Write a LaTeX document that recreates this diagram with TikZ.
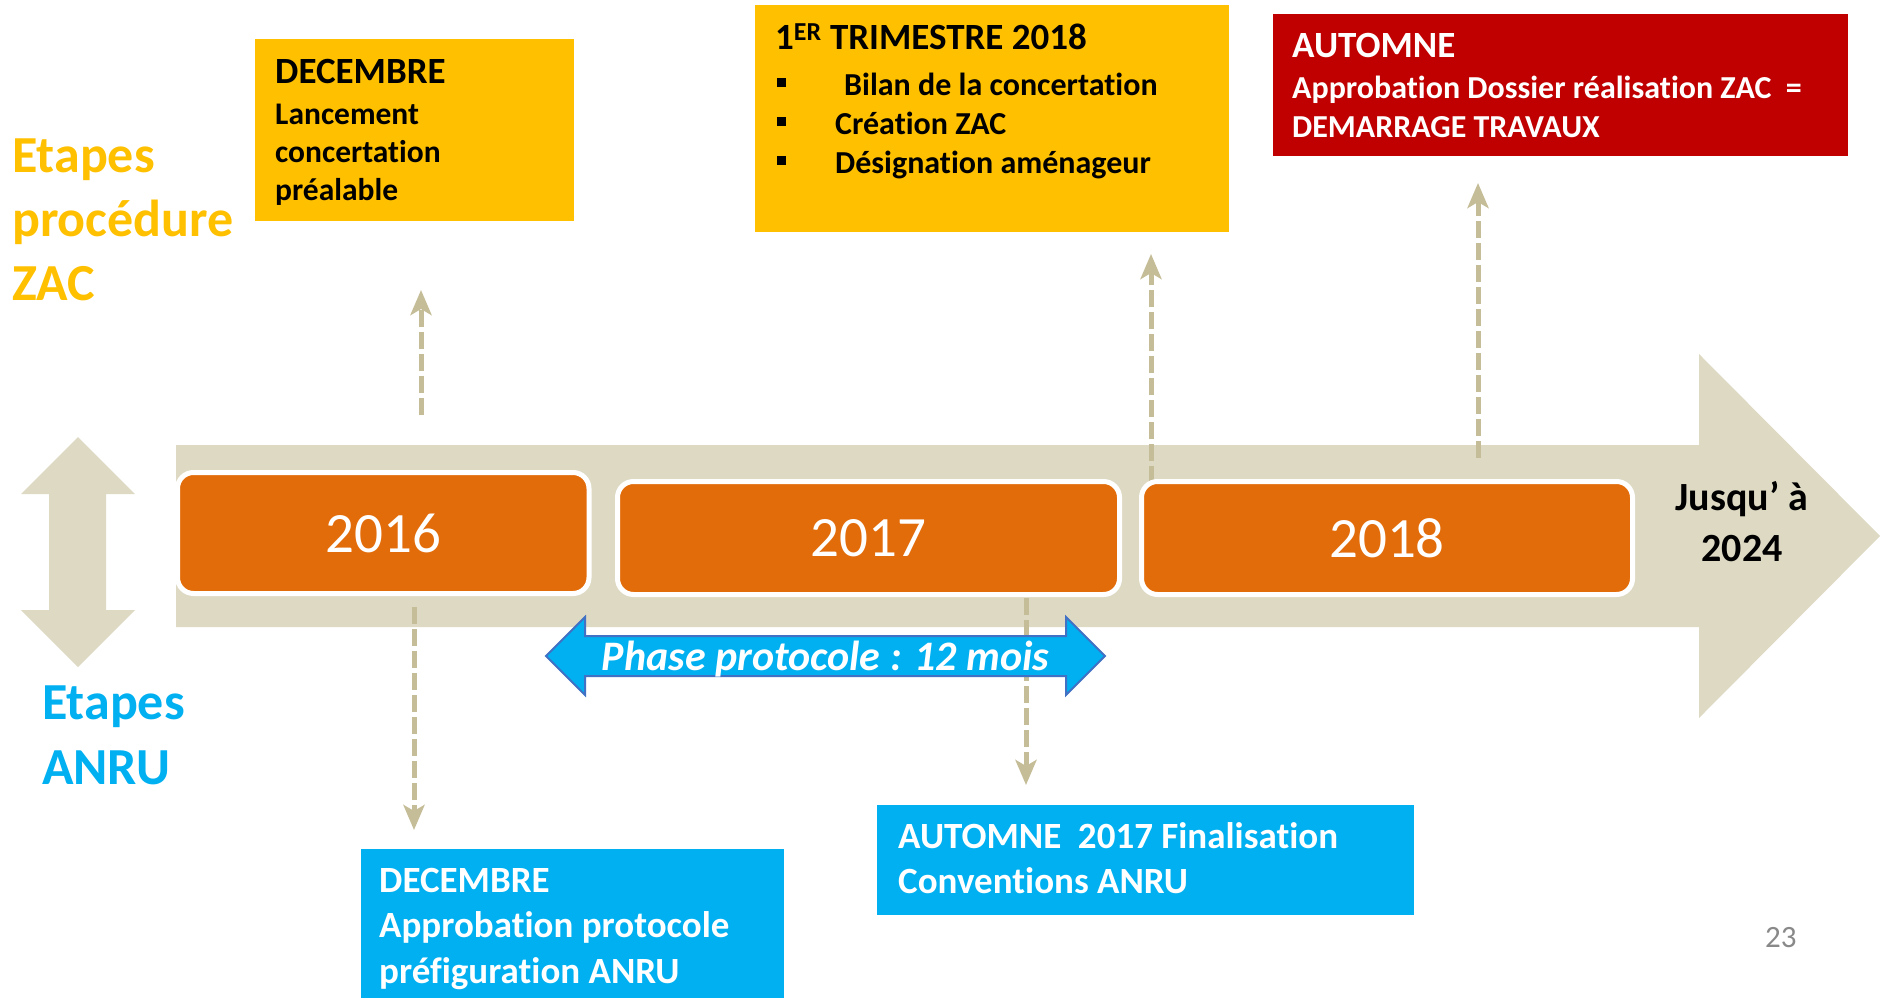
\documentclass[tikz,border=0pt]{standalone}
\usepackage{fontspec}
\setmainfont{Carlito}[Ligatures=NoCommon]
\usetikzlibrary{arrows.meta,shapes.arrows}
\definecolor{zacyellow}{RGB}{255,192,0}
\definecolor{anrublue}{RGB}{0,176,240}
\definecolor{autred}{RGB}{192,0,0}
\definecolor{yearorange}{RGB}{227,108,10}
\definecolor{bandgray}{RGB}{221,217,195}
\definecolor{dashtan}{RGB}{196,189,151}
\definecolor{outlineblue}{RGB}{65,113,196}
\definecolor{pagegray}{RGB}{137,137,137}
\newcommand{\fsz}[2]{\fontsize{#1}{#2}\selectfont}
\newcommand{\bul}{\makebox[58pt][l]{\rule[8.5pt]{9pt}{9pt}}}
\begin{document}
\begin{tikzpicture}[x=1pt,y=-1pt,
  zacbox/.style={fill=zacyellow, anchor=north west, inner sep=0pt, outer sep=0pt},
  anrubox/.style={fill=anrublue, anchor=north west, inner sep=0pt, outer sep=0pt},
  redbox/.style={fill=autred, anchor=north west, inner sep=0pt, outer sep=0pt},
  yearbox/.style={rounded corners=16pt, fill=yearorange, draw=white, line width=5pt,
    text=white, font=\fsz{57}{60}, inner sep=0pt},
  linktxt/.style={anchor=base west, inner sep=0pt, align=left},
  timelink/.style={draw=dashtan, line width=5pt, dash pattern=on 17pt off 5pt,
    -{Stealth[length=25pt,width=21pt,inset=6pt]}},
  bandshape/.style={fill=bandgray}
]
\useasboundingbox (0,0) rectangle (1881,998);
\fill[white] (0,0) rectangle (1881,998);

% timeline band with arrow head
\path[bandshape] (176,445) -- (1699,445) -- (1699,354) -- (1880,536) -- (1699,718)
  -- (1699,627) -- (176,627) -- cycle;
% vertical double arrow on the left
\path[bandshape] (78,437) -- (135,494) -- (106,494) -- (106,610) -- (135,610) -- (78,667)
  -- (21,610) -- (49,610) -- (49,494) -- (21,494) -- cycle;

% dashed connectors
\coordinate (up16a) at (421,415);  \coordinate (up16b) at (421,290);
\coordinate (up18a) at (1151,483); \coordinate (up18b) at (1151,254);
\coordinate (up18c) at (1478,458); \coordinate (up18d) at (1478,183);
\coordinate (dn16a) at (414,607);  \coordinate (dn16b) at (414,830);
\coordinate (dn17a) at (1026,598); \coordinate (dn17b) at (1026,785);
\draw[timelink] (up16a) -- (up16b);
\draw[timelink] (up18a) -- (up18b);
\draw[timelink] (up18c) -- (up18d);
\draw[timelink] (dn16a) -- (dn16b);
\draw[timelink] (dn17a) -- (dn17b);

% year boxes
\node[yearbox, minimum width=411.5pt, minimum height=121pt] (y2016) at (383.25,533) {2016};
\node[yearbox, minimum width=502pt, minimum height=113pt] (y2017) at (868.5,538) {2017};
\node[yearbox, minimum width=491pt, minimum height=113pt] (y2018) at (1387,538) {2018};

% phase protocole double arrow
\node[double arrow, fill=anrublue, draw=outlineblue, line width=2pt,
  minimum height=559pt, minimum width=76pt, double arrow head extend=19pt,
  text height=33pt, text depth=5pt, inner xsep=0pt, inner ysep=0pt,
  text=white, font=\bfseries\itshape\fsz{42}{44}] (phase) at (825.5,656)
  {Phase protocole : 12 mois};

% ZAC event boxes
\node[zacbox, minimum width=319pt, minimum height=182pt] (zacdec) at (255,39) {};
\node[zacbox, minimum width=474pt, minimum height=227pt] (zactri) at (755,5) {};
\node[redbox, minimum width=575pt, minimum height=142pt] (zacaut) at (1273,14) {};
% ANRU event boxes
\node[anrubox, minimum width=423pt, minimum height=149pt] (anrudec) at (361,849) {};
\node[anrubox, minimum width=537pt, minimum height=110pt] (anruaut) at (877,805) {};

% texts of ZAC boxes (multi-line nodes are anchored at their last baseline)
\node[linktxt, font=\bfseries\fsz{37}{45}] (zacdecT) at (275,84) {DECEMBRE};
\node[linktxt, font=\bfseries\fsz{31.5}{38}] (zacdecB) at (275,200)
  {Lancement\\concertation\\préalable};
\node[linktxt, font=\bfseries\fsz{37}{45}] (zactriT) at (775,50) {1\textsuperscript{ER} TRIMESTRE 2018};
\node[linktxt, font=\bfseries\fsz{32}{39}] (zactriB) at (777,173)
  {\bul\hspace{9pt}Bilan de la concertation\\\bul Création ZAC\\\bul Désignation aménageur};
\node[linktxt, font=\bfseries\fsz{37}{45}, text=white] (zacautT) at (1292,58) {AUTOMNE};
\node[linktxt, font=\bfseries\fsz{32}{39}, text=white] (zacautB) at (1292,137)
  {Approbation Dossier réalisation ZAC \ =\\DEMARRAGE TRAVAUX};

% texts of ANRU boxes
\node[linktxt, font=\bfseries\fsz{37}{45.5}, text=white] (anrudecT) at (379,983)
  {DECEMBRE\\Approbation protocole\\préfiguration ANRU};
\node[linktxt, font=\bfseries\fsz{37}{45}, text=white] (anruautT) at (898,893)
  {AUTOMNE \ 2017 Finalisation\\Conventions ANRU};

% side labels
\node[linktxt, font=\bfseries\fsz{52}{64}, text=zacyellow] (zaclabel) at (12,300)
  {Etapes\\procédure\\ZAC};
\node[linktxt, font=\bfseries\fsz{52}{65}, text=anrublue] (anrulabel) at (42,784)
  {Etapes\\ANRU};

% end of timeline
\node[anchor=base, inner sep=0pt, align=center, font=\bfseries\fsz{40}{51}] (until) at (1742,561)
  {Jusqu’ à\\2024};

% page number
\node[anchor=base west, inner sep=0pt, font=\fsz{31}{31}, text=pagegray] (pnum) at (1765,947) {23};
\end{tikzpicture}
\end{document}
